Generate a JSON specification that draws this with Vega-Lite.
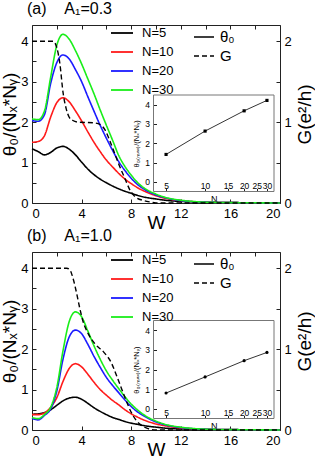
{
  "$schema": "https://vega.github.io/schema/vega-lite/v6.json",
  "padding": {"left": 0, "top": 0, "right": 0, "bottom": 0},
  "config": {
    "font": "Liberation Sans",
    "view": {"stroke": "#222", "strokeWidth": 1},
    "axis": {"grid": false, "domain": false, "labelColor": "#000", "titleColor": "#000", "tickColor": "#222", "titleFontWeight": "normal", "labelFont": "Liberation Sans", "titleFont": "Liberation Sans"},
    "legend": {"labelFont": "Liberation Sans", "labelColor": "#000"},
    "title": {"font": "Liberation Sans", "fontWeight": "normal", "color": "#000"}
  },
  "datasets": {
    "thetaA": [
      {"W":0,"theta":1.34,"N":"N=5"},{"W":0.5,"theta":1.27,"N":"N=5"},{"W":1,"theta":1.19,"N":"N=5"},{"W":1.5,"theta":1.25,"N":"N=5"},{"W":2,"theta":1.36,"N":"N=5"},{"W":2.5,"theta":1.4,"N":"N=5"},{"W":3,"theta":1.33,"N":"N=5"},{"W":3.5,"theta":1.19,"N":"N=5"},{"W":4,"theta":1.01,"N":"N=5"},{"W":4.5,"theta":0.84,"N":"N=5"},{"W":5,"theta":0.7,"N":"N=5"},{"W":5.5,"theta":0.59,"N":"N=5"},{"W":6,"theta":0.5,"N":"N=5"},{"W":6.5,"theta":0.42,"N":"N=5"},{"W":7,"theta":0.35,"N":"N=5"},{"W":7.5,"theta":0.29,"N":"N=5"},{"W":8,"theta":0.24,"N":"N=5"},{"W":8.5,"theta":0.19,"N":"N=5"},{"W":9,"theta":0.15,"N":"N=5"},{"W":10,"theta":0.1,"N":"N=5"},{"W":11,"theta":0.06,"N":"N=5"},{"W":12,"theta":0.04,"N":"N=5"},{"W":14,"theta":0.02,"N":"N=5"},{"W":16,"theta":0.01,"N":"N=5"},{"W":18,"theta":0.005,"N":"N=5"},{"W":20,"theta":0,"N":"N=5"},
      {"W":0,"theta":1.5,"N":"N=10"},{"W":0.5,"theta":1.52,"N":"N=10"},{"W":1,"theta":1.66,"N":"N=10"},{"W":1.5,"theta":2.12,"N":"N=10"},{"W":2,"theta":2.48,"N":"N=10"},{"W":2.5,"theta":2.6,"N":"N=10"},{"W":3,"theta":2.5,"N":"N=10"},{"W":3.5,"theta":2.28,"N":"N=10"},{"W":4,"theta":2.03,"N":"N=10"},{"W":4.5,"theta":1.76,"N":"N=10"},{"W":5,"theta":1.5,"N":"N=10"},{"W":5.5,"theta":1.27,"N":"N=10"},{"W":6,"theta":1.06,"N":"N=10"},{"W":6.5,"theta":0.89,"N":"N=10"},{"W":7,"theta":0.73,"N":"N=10"},{"W":7.5,"theta":0.59,"N":"N=10"},{"W":8,"theta":0.48,"N":"N=10"},{"W":8.5,"theta":0.38,"N":"N=10"},{"W":9,"theta":0.3,"N":"N=10"},{"W":10,"theta":0.18,"N":"N=10"},{"W":11,"theta":0.1,"N":"N=10"},{"W":12,"theta":0.06,"N":"N=10"},{"W":14,"theta":0.02,"N":"N=10"},{"W":16,"theta":0.01,"N":"N=10"},{"W":18,"theta":0.005,"N":"N=10"},{"W":20,"theta":0,"N":"N=10"},
      {"W":0,"theta":2.04,"N":"N=20"},{"W":0.5,"theta":2.02,"N":"N=20"},{"W":1,"theta":2.18,"N":"N=20"},{"W":1.5,"theta":2.95,"N":"N=20"},{"W":2,"theta":3.47,"N":"N=20"},{"W":2.5,"theta":3.66,"N":"N=20"},{"W":3,"theta":3.56,"N":"N=20"},{"W":3.5,"theta":3.3,"N":"N=20"},{"W":4,"theta":3.0,"N":"N=20"},{"W":4.5,"theta":2.63,"N":"N=20"},{"W":5,"theta":2.27,"N":"N=20"},{"W":5.5,"theta":1.92,"N":"N=20"},{"W":6,"theta":1.6,"N":"N=20"},{"W":6.5,"theta":1.3,"N":"N=20"},{"W":7,"theta":1.02,"N":"N=20"},{"W":7.5,"theta":0.8,"N":"N=20"},{"W":8,"theta":0.61,"N":"N=20"},{"W":8.5,"theta":0.46,"N":"N=20"},{"W":9,"theta":0.35,"N":"N=20"},{"W":10,"theta":0.2,"N":"N=20"},{"W":11,"theta":0.11,"N":"N=20"},{"W":12,"theta":0.06,"N":"N=20"},{"W":14,"theta":0.02,"N":"N=20"},{"W":16,"theta":0.01,"N":"N=20"},{"W":18,"theta":0.005,"N":"N=20"},{"W":20,"theta":0,"N":"N=20"},
      {"W":0,"theta":2.08,"N":"N=30"},{"W":0.5,"theta":2.06,"N":"N=30"},{"W":1,"theta":2.27,"N":"N=30"},{"W":1.5,"theta":3.1,"N":"N=30"},{"W":2,"theta":3.9,"N":"N=30"},{"W":2.5,"theta":4.17,"N":"N=30"},{"W":3,"theta":4.05,"N":"N=30"},{"W":3.5,"theta":3.77,"N":"N=30"},{"W":4,"theta":3.44,"N":"N=30"},{"W":4.5,"theta":3.07,"N":"N=30"},{"W":5,"theta":2.7,"N":"N=30"},{"W":5.5,"theta":2.3,"N":"N=30"},{"W":6,"theta":1.92,"N":"N=30"},{"W":6.5,"theta":1.55,"N":"N=30"},{"W":7,"theta":1.17,"N":"N=30"},{"W":7.5,"theta":0.9,"N":"N=30"},{"W":8,"theta":0.69,"N":"N=30"},{"W":8.5,"theta":0.51,"N":"N=30"},{"W":9,"theta":0.38,"N":"N=30"},{"W":10,"theta":0.22,"N":"N=30"},{"W":11,"theta":0.12,"N":"N=30"},{"W":12,"theta":0.07,"N":"N=30"},{"W":14,"theta":0.02,"N":"N=30"},{"W":16,"theta":0.01,"N":"N=30"},{"W":18,"theta":0.005,"N":"N=30"},{"W":20,"theta":0,"N":"N=30"}
    ],
    "gA": [
      {"W":0,"G":2.0},{"W":1,"G":2.0},{"W":1.7,"G":2.0},{"W":2.0,"G":1.92},{"W":2.25,"G":1.72},{"W":2.5,"G":1.37},{"W":2.75,"G":1.17},{"W":3.0,"G":1.06},{"W":3.3,"G":1.02},{"W":3.7,"G":1.0},{"W":5.0,"G":0.99},{"W":5.5,"G":0.97},{"W":5.9,"G":0.9},{"W":6.3,"G":0.76},{"W":6.7,"G":0.6},{"W":7.0,"G":0.48},{"W":7.5,"G":0.3},{"W":7.9,"G":0.16},{"W":8.3,"G":0.08},{"W":9.0,"G":0.03},{"W":9.6,"G":0.01},{"W":10,"G":0},{"W":20,"G":0}
    ],
    "insetA": [
      {"N":5,"v":1.42},{"N":10,"v":2.63},{"N":20,"v":3.68},{"N":30,"v":4.22}
    ],
    "thetaB": [
      {"W":0,"theta":0.39,"N":"N=5"},{"W":0.5,"theta":0.4,"N":"N=5"},{"W":1,"theta":0.43,"N":"N=5"},{"W":1.5,"theta":0.5,"N":"N=5"},{"W":2,"theta":0.61,"N":"N=5"},{"W":2.5,"theta":0.72,"N":"N=5"},{"W":3,"theta":0.79,"N":"N=5"},{"W":3.5,"theta":0.81,"N":"N=5"},{"W":4,"theta":0.76,"N":"N=5"},{"W":4.5,"theta":0.66,"N":"N=5"},{"W":5,"theta":0.55,"N":"N=5"},{"W":5.5,"theta":0.46,"N":"N=5"},{"W":6,"theta":0.38,"N":"N=5"},{"W":6.5,"theta":0.31,"N":"N=5"},{"W":7,"theta":0.26,"N":"N=5"},{"W":7.5,"theta":0.21,"N":"N=5"},{"W":8,"theta":0.17,"N":"N=5"},{"W":8.5,"theta":0.14,"N":"N=5"},{"W":9,"theta":0.11,"N":"N=5"},{"W":10,"theta":0.07,"N":"N=5"},{"W":11,"theta":0.04,"N":"N=5"},{"W":12,"theta":0.03,"N":"N=5"},{"W":14,"theta":0.01,"N":"N=5"},{"W":16,"theta":0.005,"N":"N=5"},{"W":18,"theta":0.002,"N":"N=5"},{"W":20,"theta":0,"N":"N=5"},
      {"W":0,"theta":0.38,"N":"N=10"},{"W":0.5,"theta":0.38,"N":"N=10"},{"W":1,"theta":0.42,"N":"N=10"},{"W":1.5,"theta":0.56,"N":"N=10"},{"W":2,"theta":0.8,"N":"N=10"},{"W":2.5,"theta":1.2,"N":"N=10"},{"W":3,"theta":1.52,"N":"N=10"},{"W":3.5,"theta":1.64,"N":"N=10"},{"W":4,"theta":1.56,"N":"N=10"},{"W":4.5,"theta":1.38,"N":"N=10"},{"W":5,"theta":1.18,"N":"N=10"},{"W":5.5,"theta":1.0,"N":"N=10"},{"W":6,"theta":0.86,"N":"N=10"},{"W":6.5,"theta":0.73,"N":"N=10"},{"W":7,"theta":0.62,"N":"N=10"},{"W":7.5,"theta":0.5,"N":"N=10"},{"W":8,"theta":0.4,"N":"N=10"},{"W":8.5,"theta":0.32,"N":"N=10"},{"W":9,"theta":0.25,"N":"N=10"},{"W":10,"theta":0.15,"N":"N=10"},{"W":11,"theta":0.09,"N":"N=10"},{"W":12,"theta":0.05,"N":"N=10"},{"W":14,"theta":0.02,"N":"N=10"},{"W":16,"theta":0.01,"N":"N=10"},{"W":18,"theta":0.005,"N":"N=10"},{"W":20,"theta":0,"N":"N=10"},
      {"W":0,"theta":0.29,"N":"N=20"},{"W":0.5,"theta":0.25,"N":"N=20"},{"W":1,"theta":0.36,"N":"N=20"},{"W":1.5,"theta":0.52,"N":"N=20"},{"W":2,"theta":0.96,"N":"N=20"},{"W":2.5,"theta":1.75,"N":"N=20"},{"W":3,"theta":2.3,"N":"N=20"},{"W":3.5,"theta":2.47,"N":"N=20"},{"W":4,"theta":2.38,"N":"N=20"},{"W":4.5,"theta":2.12,"N":"N=20"},{"W":5,"theta":1.82,"N":"N=20"},{"W":5.5,"theta":1.55,"N":"N=20"},{"W":6,"theta":1.3,"N":"N=20"},{"W":6.5,"theta":1.1,"N":"N=20"},{"W":7,"theta":0.92,"N":"N=20"},{"W":7.5,"theta":0.74,"N":"N=20"},{"W":8,"theta":0.58,"N":"N=20"},{"W":8.5,"theta":0.45,"N":"N=20"},{"W":9,"theta":0.35,"N":"N=20"},{"W":10,"theta":0.2,"N":"N=20"},{"W":11,"theta":0.11,"N":"N=20"},{"W":12,"theta":0.06,"N":"N=20"},{"W":14,"theta":0.02,"N":"N=20"},{"W":16,"theta":0.01,"N":"N=20"},{"W":18,"theta":0.005,"N":"N=20"},{"W":20,"theta":0,"N":"N=20"},
      {"W":0,"theta":0.31,"N":"N=30"},{"W":0.5,"theta":0.28,"N":"N=30"},{"W":1,"theta":0.38,"N":"N=30"},{"W":1.5,"theta":0.56,"N":"N=30"},{"W":2,"theta":1.05,"N":"N=30"},{"W":2.5,"theta":1.96,"N":"N=30"},{"W":3,"theta":2.68,"N":"N=30"},{"W":3.5,"theta":2.92,"N":"N=30"},{"W":4,"theta":2.8,"N":"N=30"},{"W":4.5,"theta":2.45,"N":"N=30"},{"W":5,"theta":2.08,"N":"N=30"},{"W":5.5,"theta":1.75,"N":"N=30"},{"W":6,"theta":1.46,"N":"N=30"},{"W":6.5,"theta":1.23,"N":"N=30"},{"W":7,"theta":1.02,"N":"N=30"},{"W":7.5,"theta":0.82,"N":"N=30"},{"W":8,"theta":0.64,"N":"N=30"},{"W":8.5,"theta":0.5,"N":"N=30"},{"W":9,"theta":0.38,"N":"N=30"},{"W":10,"theta":0.22,"N":"N=30"},{"W":11,"theta":0.12,"N":"N=30"},{"W":12,"theta":0.07,"N":"N=30"},{"W":14,"theta":0.02,"N":"N=30"},{"W":16,"theta":0.01,"N":"N=30"},{"W":18,"theta":0.005,"N":"N=30"},{"W":20,"theta":0,"N":"N=30"}
    ],
    "gB": [
      {"W":0,"G":2.0},{"W":1.5,"G":2.0},{"W":2.8,"G":2.0},{"W":3.05,"G":1.98},{"W":3.3,"G":1.88},{"W":3.6,"G":1.69},{"W":3.86,"G":1.5},{"W":4.1,"G":1.35},{"W":4.5,"G":1.2},{"W":5.1,"G":1.06},{"W":5.8,"G":0.96},{"W":6.4,"G":0.83},{"W":6.8,"G":0.68},{"W":7.2,"G":0.52},{"W":7.6,"G":0.36},{"W":8.0,"G":0.22},{"W":8.4,"G":0.12},{"W":8.8,"G":0.06},{"W":9.3,"G":0.02},{"W":10,"G":0},{"W":20,"G":0}
    ],
    "insetB": [
      {"N":5,"v":0.8},{"N":10,"v":1.62},{"N":20,"v":2.45},{"N":30,"v":2.87}
    ],
    "frame": [{"x1":4,"x2":34,"y1":-0.5,"y2":4.5}]
  },
  "vconcat": [
    {
      "title": {"text": "(a)\u00a0\u00a0\u00a0\u00a0A₁=0.3", "anchor": "start", "frame": "group", "dx": -5, "dy": -2, "fontSize": 16, "offset": 2},
      "width": 248, "height": 178,
      "layer": [
        {
          "layer": [
            {
              "data": {"name": "thetaA"},
              "mark": {"type": "line", "strokeWidth": 1.6, "interpolate": "monotone"},
              "encoding": {
                "x": {"field": "W", "type": "quantitative", "scale": {"domain": [0, 20], "nice": false}, "axis": {"orient": "bottom", "values": [0,2,4,6,8,10,12,14,16,18,20], "labelExpr": "datum.value % 4 === 0 ? '' + datum.value : ''", "tickSize": -4, "labelPadding": 8, "labelFontSize": 13, "title": "W", "titleFontSize": 19, "titlePadding": -7}},
                "y": {"field": "theta", "type": "quantitative", "scale": {"domain": [0, 4.4], "nice": false}, "axis": {"orient": "left", "values": [0,0.5,1,1.5,2,2.5,3,3.5,4], "labelExpr": "datum.value % 1 === 0 ? '' + datum.value : ''", "tickSize": -4, "labelPadding": 8, "labelFontSize": 13, "title": "θ₀/(Nₓ*Nᵧ)", "titleFontSize": 19, "titlePadding": 1}},
                "color": {"field": "N", "type": "nominal", "scale": {"domain": ["N=5","N=10","N=20","N=30"], "range": ["#000000","#ff1a1a","#1a1aff","#1aee1a"]}, "legend": {"orient": "none", "legendX": 78, "legendY": -4, "title": null, "symbolType": "stroke", "symbolSize": 484, "symbolStrokeWidth": 1.8, "labelFontSize": 13, "rowPadding": -6, "labelOffset": 8}},
                "strokeDash": {"datum": "θ₀", "type": "nominal", "scale": {"domain": ["θ₀","G"], "range": [[1,0],[5,3]]}, "legend": {"orient": "none", "legendX": 161, "legendY": 1, "title": null, "symbolType": "stroke", "symbolSize": 400, "symbolStrokeColor": "#000", "symbolStrokeWidth": 1.6, "labelFontSize": 15, "rowPadding": -10, "labelOffset": 5}}
              }
            },
            {
              "data": {"name": "gA"},
              "mark": {"type": "line", "strokeWidth": 1.4, "color": "#000", "interpolate": "monotone"},
              "encoding": {
                "x": {"field": "W", "type": "quantitative"},
                "y": {"field": "G", "type": "quantitative", "scale": {"domain": [0, 2.2], "nice": false}, "axis": {"orient": "right", "values": [0,0.5,1,1.5,2], "labelExpr": "datum.value % 1 === 0 ? '' + datum.value : ''", "tickSize": -4, "labelPadding": 8, "labelFontSize": 13, "title": "G(e²/h)", "titleFontSize": 19, "titleAngle": 270, "titleBaseline": "top", "titlePadding": 4}},
                "strokeDash": {"datum": "G", "type": "nominal"}
              }
            }
          ],
          "resolve": {"scale": {"y": "independent"}}
        },
        {
          "data": {"name": "gA"},
          "mark": {"type": "line", "opacity": 0},
          "encoding": {
            "x": {"field": "W", "type": "quantitative", "scale": {"domain": [0, 20], "nice": false}, "axis": {"orient": "top", "values": [0,2,4,6,8,10,12,14,16,18,20], "labels": false, "tickSize": -4, "title": null}},
            "y": {"field": "G", "type": "quantitative", "scale": {"domain": [0, 2.2], "nice": false}, "axis": null}
          }
        },
        {
          "layer": [
            {
              "data": {"name": "frame"},
              "mark": {"type": "rect", "fillOpacity": 0, "stroke": "#777", "strokeWidth": 1},
              "encoding": {
                "x": {"field": "x1", "type": "quantitative", "scale": {"type": "log", "domain": [4, 34], "range": [121.5, 242], "nice": false}, "axis": {"orient": "top", "offset": -166.5, "values": [5,10,15,20,25,30], "tickSize": 3, "labelPadding": -2, "labelOverlap": false, "labelFontSize": 8.5, "title": "N", "titleFontSize": 9, "titleY": 10, "titleBaseline": "alphabetic"}},
                "x2": {"field": "x2"},
                "y": {"field": "y1", "type": "quantitative", "scale": {"domain": [-0.5, 4.5], "range": [166.5, 70], "nice": false}, "axis": {"orient": "left", "offset": -121.5, "values": [0,1,2,3,4], "tickSize": -3, "labelPadding": 7, "labelFontSize": 8.5, "title": "θ₀₍ₘₐₓ₎/(Nₓ*Nᵧ)", "titleFontSize": 7.5, "titleX": -13}},
                "y2": {"field": "y2"}
              }
            },
            {
              "data": {"name": "insetA"},
              "mark": {"type": "line", "color": "#000", "strokeWidth": 0.8, "point": {"shape": "square", "size": 10, "filled": true, "color": "#000"}},
              "encoding": {
                "x": {"field": "N", "type": "quantitative"},
                "y": {"field": "v", "type": "quantitative"}
              }
            }
          ]
        }
      ],
      "resolve": {"scale": {"x": "independent", "y": "independent", "color": "independent", "strokeDash": "independent"}}
    },
    {
      "title": {"text": "(b)\u00a0\u00a0\u00a0\u00a0A₁=1.0", "anchor": "start", "frame": "group", "dx": -5, "dy": -2, "fontSize": 16, "offset": 2},
      "width": 248, "height": 178,
      "layer": [
        {
          "layer": [
            {
              "data": {"name": "thetaB"},
              "mark": {"type": "line", "strokeWidth": 1.6, "interpolate": "monotone"},
              "encoding": {
                "x": {"field": "W", "type": "quantitative", "scale": {"domain": [0, 20], "nice": false}, "axis": {"orient": "bottom", "values": [0,2,4,6,8,10,12,14,16,18,20], "labelExpr": "datum.value % 4 === 0 ? '' + datum.value : ''", "tickSize": -4, "labelPadding": 8, "labelFontSize": 13, "title": "W", "titleFontSize": 19, "titlePadding": -7}},
                "y": {"field": "theta", "type": "quantitative", "scale": {"domain": [0, 4.4], "nice": false}, "axis": {"orient": "left", "values": [0,0.5,1,1.5,2,2.5,3,3.5,4], "labelExpr": "datum.value % 1 === 0 ? '' + datum.value : ''", "tickSize": -4, "labelPadding": 8, "labelFontSize": 13, "title": "θ₀/(Nₓ*Nᵧ)", "titleFontSize": 19, "titlePadding": 1}},
                "color": {"field": "N", "type": "nominal", "scale": {"domain": ["N=5","N=10","N=20","N=30"], "range": ["#000000","#ff1a1a","#1a1aff","#1aee1a"]}, "legend": {"orient": "none", "legendX": 78, "legendY": -4, "title": null, "symbolType": "stroke", "symbolSize": 484, "symbolStrokeWidth": 1.8, "labelFontSize": 13, "rowPadding": -6, "labelOffset": 8}},
                "strokeDash": {"datum": "θ₀", "type": "nominal", "scale": {"domain": ["θ₀","G"], "range": [[1,0],[5,3]]}, "legend": {"orient": "none", "legendX": 161, "legendY": 1, "title": null, "symbolType": "stroke", "symbolSize": 400, "symbolStrokeColor": "#000", "symbolStrokeWidth": 1.6, "labelFontSize": 15, "rowPadding": -10, "labelOffset": 5}}
              }
            },
            {
              "data": {"name": "gB"},
              "mark": {"type": "line", "strokeWidth": 1.4, "color": "#000", "interpolate": "monotone"},
              "encoding": {
                "x": {"field": "W", "type": "quantitative"},
                "y": {"field": "G", "type": "quantitative", "scale": {"domain": [0, 2.2], "nice": false}, "axis": {"orient": "right", "values": [0,0.5,1,1.5,2], "labelExpr": "datum.value % 1 === 0 ? '' + datum.value : ''", "tickSize": -4, "labelPadding": 8, "labelFontSize": 13, "title": "G(e²/h)", "titleFontSize": 19, "titleAngle": 270, "titleBaseline": "top", "titlePadding": 4}},
                "strokeDash": {"datum": "G", "type": "nominal"}
              }
            }
          ],
          "resolve": {"scale": {"y": "independent"}}
        },
        {
          "data": {"name": "gB"},
          "mark": {"type": "line", "opacity": 0},
          "encoding": {
            "x": {"field": "W", "type": "quantitative", "scale": {"domain": [0, 20], "nice": false}, "axis": {"orient": "top", "values": [0,2,4,6,8,10,12,14,16,18,20], "labels": false, "tickSize": -4, "title": null}},
            "y": {"field": "G", "type": "quantitative", "scale": {"domain": [0, 2.2], "nice": false}, "axis": null}
          }
        },
        {
          "layer": [
            {
              "data": {"name": "frame"},
              "mark": {"type": "rect", "fillOpacity": 0, "stroke": "#777", "strokeWidth": 1},
              "encoding": {
                "x": {"field": "x1", "type": "quantitative", "scale": {"type": "log", "domain": [4, 34], "range": [121.5, 242], "nice": false}, "axis": {"orient": "top", "offset": -166.5, "values": [5,10,15,20,25,30], "tickSize": 3, "labelPadding": -2, "labelOverlap": false, "labelFontSize": 8.5, "title": "N", "titleFontSize": 9, "titleY": 10, "titleBaseline": "alphabetic"}},
                "x2": {"field": "x2"},
                "y": {"field": "y1", "type": "quantitative", "scale": {"domain": [-0.5, 4.5], "range": [166.5, 68.5], "nice": false}, "axis": {"orient": "left", "offset": -121.5, "values": [0,1,2,3,4], "tickSize": -3, "labelPadding": 7, "labelFontSize": 8.5, "title": "θ₀₍ₘₐₓ₎/(Nₓ*Nᵧ)", "titleFontSize": 7.5, "titleX": -13}},
                "y2": {"field": "y2"}
              }
            },
            {
              "data": {"name": "insetB"},
              "mark": {"type": "line", "color": "#000", "strokeWidth": 0.8, "point": {"shape": "circle", "size": 10, "filled": true, "color": "#000"}},
              "encoding": {
                "x": {"field": "N", "type": "quantitative"},
                "y": {"field": "v", "type": "quantitative"}
              }
            }
          ]
        }
      ],
      "resolve": {"scale": {"x": "independent", "y": "independent", "color": "independent", "strokeDash": "independent"}}
    }
  ],
  "spacing": -6,
  "resolve": {"scale": {"color": "independent", "strokeDash": "independent"}}
}
